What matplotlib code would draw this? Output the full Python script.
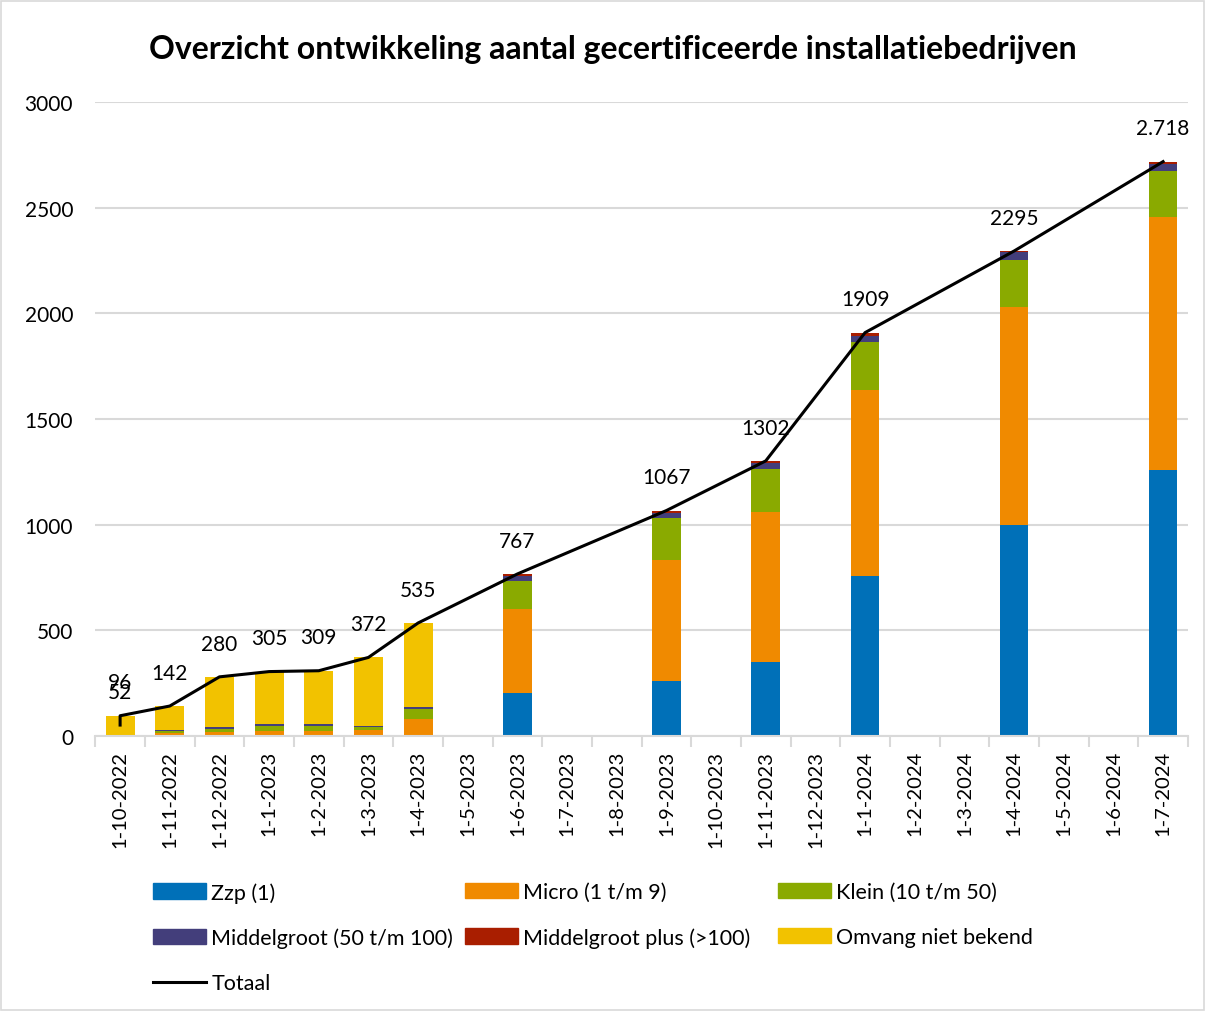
import numpy as np
import matplotlib.pyplot as plt
from matplotlib.patches import Rectangle, Patch
from matplotlib.lines import Line2D

nan = np.nan

dates = ['1-10-2022', '1-11-2022', '1-12-2022', '1-1-2023', '1-2-2023', '1-3-2023',
         '1-4-2023', '1-5-2023', '1-6-2023', '1-7-2023', '1-8-2023', '1-9-2023',
         '1-10-2023', '1-11-2023', '1-12-2023', '1-1-2024', '1-2-2024', '1-3-2024',
         '1-4-2024', '1-5-2024', '1-6-2024', '1-7-2024']

zzp     = [0, 0, 0, 0, 0, 0, 0, nan, 205, nan, nan, 262, nan, 350, nan, 757, nan, nan, 997, nan, nan, 1257]
micro   = [3, 16, 20, 24, 24, 30, 79, nan, 395, nan, nan, 571, nan, 712, nan, 879, nan, nan, 1031, nan, nan, 1198]
klein   = [1, 9, 15, 24, 24, 14, 49, nan, 134, nan, nan, 199, nan, 201, nan, 227, nan, nan, 226, nan, nan, 218]
midden  = [1, 4, 8, 8, 8, 3, 9, nan, 25, nan, nan, 24, nan, 29, nan, 32, nan, nan, 34, nan, nan, 34]
plus    = [0, 0, 1, 1, 1, 0, 2, nan, 8, nan, nan, 11, nan, 10, nan, 14, nan, nan, 7, nan, nan, 11]
omvang  = [91, 113, 236, 248, 252, 325, 396, nan, 0, nan, nan, 0, nan, 0, nan, 0, nan, nan, 0, nan, nan, 0]

totaal = [96, 142, 280, 305, 309, 372, 535, nan, 767, nan, nan, 1067, nan, 1302, nan, 1909, nan, nan, 2295, nan, nan, 2718]
totaal_first = 52  # extra point on the first date
totaal_labels = ['96', '142', '280', '305', '309', '372', '535', '', '767', '', '', '1067', '',
                 '1302', '', '1909', '', '', '2295', '', '', '2.718']

series = [
    ('Zzp (1)', zzp, '#0070B8'),
    ('Micro (1 t/m 9)', micro, '#F08A00'),
    ('Klein (10 t/m 50)', klein, '#8AAA00'),
    ('Middelgroot (50 t/m 100)', midden, '#433E7B'),
    ('Middelgroot plus (>100)', plus, '#A91E00'),
    ('Omvang niet bekend', omvang, '#F2C200'),
]

plt.rcParams['font.family'] = ['Lato', 'DejaVu Sans']

fig = plt.figure(figsize=(12.06, 10.12), dpi=100)
ax = fig.add_axes([0.079, 0.2717, 0.906, 0.6265])

x = np.arange(len(dates))
bottom = np.zeros(len(dates))
handles = []
for name, vals, col in series:
    v = np.array(vals, dtype=float)
    ax.bar(x, v, 0.58, bottom=bottom, color=col, zorder=2)
    bottom = bottom + np.nan_to_num(v)
    handles.append(Patch(color=col, label=name))

tot = np.array(totaal, dtype=float)
ok = ~np.isnan(tot)
lx = np.concatenate([[x[0]], x[ok]])
ly = np.concatenate([[totaal_first], tot[ok]])
ax.plot(lx, ly, color='black', lw=2.2, zorder=3)
h_line = Line2D([], [], color='black', lw=2.2, label='Totaal')

# data labels
ax.annotate(str(totaal_first), (x[0], totaal_first), xytext=(0, 24), textcoords='offset points',
            ha='center', va='center', fontsize=15, zorder=4)
for i, lab in enumerate(totaal_labels):
    if lab:
        ax.annotate(lab, (x[i], tot[i]), xytext=(0, 24), textcoords='offset points',
                    ha='center', va='center', fontsize=15, zorder=4)

ax.set_xlim(-0.5, len(dates) - 0.5)
ax.set_ylim(0, 3000)
ax.set_yticks(np.arange(0, 3001, 500))
ax.yaxis.grid(True, color='#D9D9D9', lw=1.5, zorder=0)
ax.set_axisbelow(True)
ax.set_xticks(x)
ax.set_xticklabels(dates, rotation=90, fontsize=14.5)
ax.set_xticks(np.arange(-0.5, len(dates), 1), minor=True)
ax.tick_params(axis='x', which='major', length=0, pad=10)
ax.tick_params(axis='x', which='minor', length=8, color='#D9D9D9', width=1.5)
ax.tick_params(axis='y', length=0, labelsize=15, pad=16)
for s in ['top', 'right', 'left']:
    ax.spines[s].set_visible(False)
ax.spines['bottom'].set_color('#D9D9D9')
ax.spines['bottom'].set_linewidth(1.5)

fig.text(0.508, 0.951, 'Overzicht ontwikkeling aantal gecertificeerde installatiebedrijven',
         ha='center', va='center', fontsize=23, fontweight='bold')

# legend, one block per column
columns = [[handles[0], handles[3], h_line], [handles[1], handles[4]], [handles[2], handles[5]]]
col_x = [0.1269, 0.3856, 0.6451]
for hs, cx in zip(columns, col_x):
    fig.legend(handles=hs, loc='upper left', bbox_to_anchor=(cx, 0.1275),
               frameon=False, fontsize=15.5, handlelength=2.45, handleheight=0.7,
               handletextpad=0.25, labelspacing=1.16, borderpad=0, borderaxespad=0)

fig.patches.append(Rectangle((0.001, 0.001), 0.997, 0.997, transform=fig.transFigure,
                             fill=False, edgecolor='#D9D9D9', lw=1.2))

fig.savefig('out.png', dpi=100)
